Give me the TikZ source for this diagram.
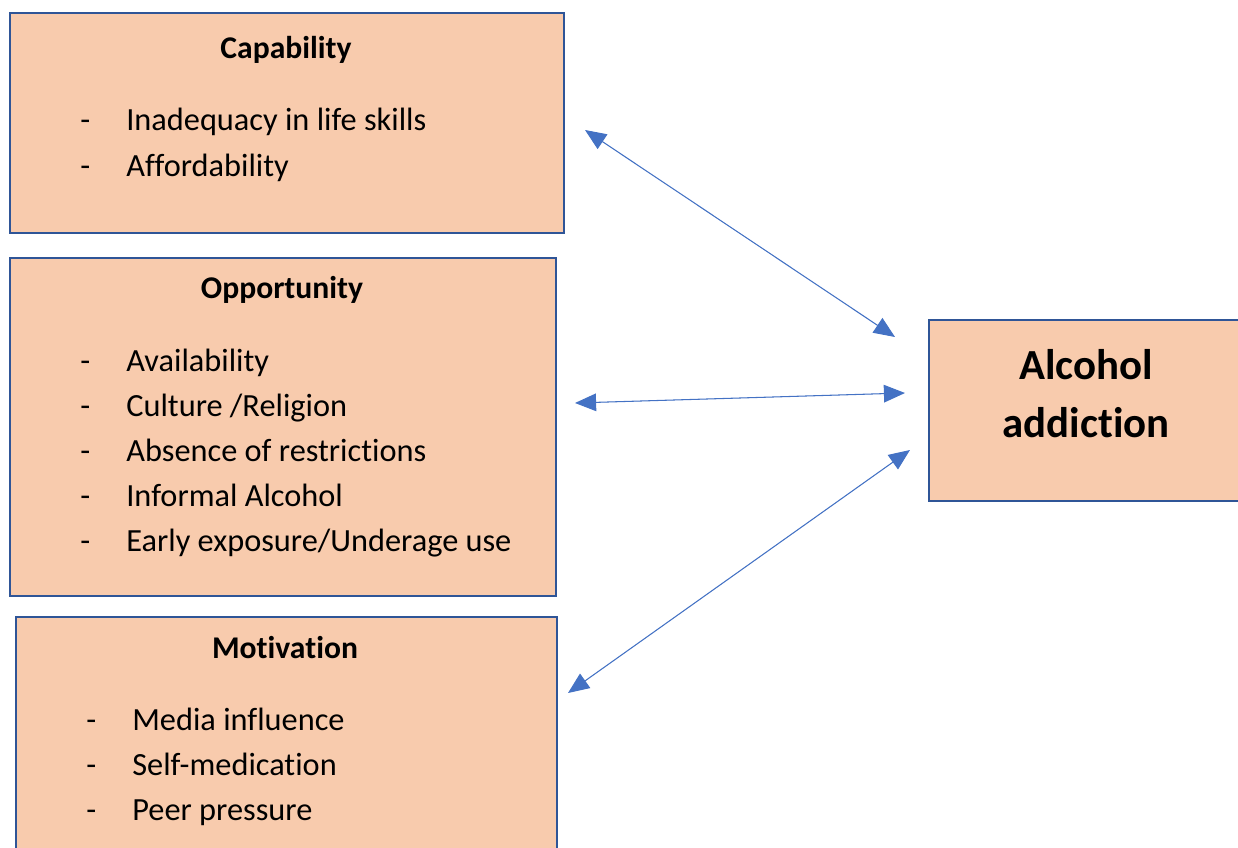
\documentclass[tikz,border=0pt]{standalone}
\usepackage{fontspec}
\setmainfont{Carlito}[Ligatures={NoCommon,NoContextual,NoRare}]
\usetikzlibrary{positioning,arrows.meta}
\definecolor{boxfill}{HTML}{F8CBAD}
\definecolor{boxline}{HTML}{2F5597}
\definecolor{linkblue}{HTML}{4472C4}

\begin{document}
\begin{tikzpicture}[x=0.02cm,y=-0.02cm]
      \tikzstyle{factor} = [rectangle, draw=boxline, line width=1.4pt, fill=boxfill, anchor=north west, inner sep=0pt]
      \tikzstyle{heading} = [font=\fontsize{18}{21}\selectfont\bfseries, anchor=base, inner sep=0pt]
      \tikzstyle{item} = [font=\fontsize{18.4}{22}\selectfont, anchor=base west, inner sep=0pt]
      \tikzstyle{link} = [{Triangle[length=12pt,width=10pt]}-{Triangle[length=12pt,width=10pt]}, draw=linkblue, fill=linkblue, line width=0.6pt]

      \useasboundingbox (0,0) rectangle (1238,848);
      \clip (0,0) rectangle (1238,848);

      % boxes
      \node[factor, minimum width=11.08cm, minimum height=4.4cm] (cap) at (9,12) {};
      \node[factor, minimum width=10.92cm, minimum height=6.76cm] (opp) at (9,257) {};
      \node[factor, minimum width=10.82cm, minimum height=5.2cm] (mot) at (15,616) {};
      \node[factor, minimum width=6.6cm, minimum height=3.62cm] (alc) at (928,319) {};

      % headings
      \node[heading] (capT) at (286,59) {Capability};
      \node[heading] (oppT) at (282,298) {Opportunity};
      \node[heading] (motT) at (285,658) {Motivation};
      \node[font=\fontsize{24.4}{33}\selectfont\bfseries, align=center] (alcT) at (1086,394) {Alcohol\\addiction};

      % items
      \foreach \txt [count=\i] in {Inadequacy in life skills, Affordability} {
        \node[item] (capD\i) at (80,{131+45*(\i-1)}) {-};
        \node[item] (capI\i) at (126,{131+45*(\i-1)}) {\txt};
      }
      \foreach \txt [count=\i] in {Availability, Culture /Religion, Absence of restrictions, Informal Alcohol, Early exposure/Underage use} {
        \node[item] (oppD\i) at (80,{371+45*(\i-1)}) {-};
        \node[item] (oppI\i) at (126,{371+45*(\i-1)}) {\txt};
      }
      \foreach \txt [count=\i] in {Media influence, Self-medication, Peer pressure} {
        \node[item] (motD\i) at (86,{730+45*(\i-1)}) {-};
        \node[item] (motI\i) at (132,{730+45*(\i-1)}) {\txt};
      }

      % links
      \coordinate (capEnd) at (585,130);
      \coordinate (alcHi) at (895,337);
      \coordinate (oppEnd) at (575,403);
      \coordinate (alcMid) at (905,393);
      \coordinate (motEnd) at (568,693);
      \coordinate (alcLo) at (910,450);
      \draw[link] (capEnd) -- (alcHi);
      \draw[link] (oppEnd) -- (alcMid);
      \draw[link] (motEnd) -- (alcLo);
\end{tikzpicture}
\end{document}
